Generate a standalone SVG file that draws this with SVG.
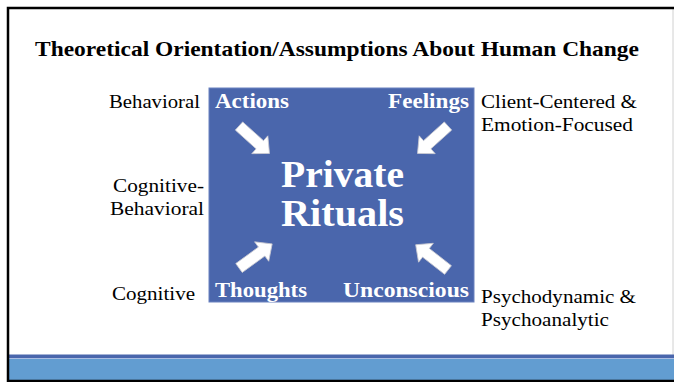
<svg xmlns="http://www.w3.org/2000/svg" width="674" height="382" viewBox="0 0 674 382">
  <style>
    .title { font-family: "Liberation Serif", "DejaVu Serif", serif; font-weight: bold; font-size: 21px; fill: #000; }
    .lbl { font-family: "Liberation Serif", "DejaVu Serif", serif; font-size: 19.5px; fill: #000; }
    .inner { font-family: "Liberation Serif", "DejaVu Serif", serif; font-weight: bold; font-size: 20px; fill: #fff; }
    .big { font-family: "Liberation Serif", "DejaVu Serif", serif; font-weight: bold; font-size: 37px; fill: #fff; }
    .arrow { fill: #fff; stroke: #c8c8d0; stroke-width: 0.8; }
  </style>
  <defs>
    <!-- block arrow pointing along +x, origin at tail centre -->
    <polygon id="blk" points="0,-5.5 28,-5.5 28,-12 41,0 28,12 28,5.5 0,5.5"/>
  </defs>

  <!-- slide frame -->
  <rect x="0" y="0" width="674" height="382" fill="#fff"/>
  <line x1="673" y1="9" x2="673" y2="380" stroke="#d0d0d0" stroke-width="1"/>
  <!-- footer bands -->
  <rect x="9" y="354.5" width="665" height="3.5" fill="#4a66ac"/>
  <rect x="9" y="358" width="665" height="1" fill="#a9bde2"/>
  <rect x="9" y="359" width="665" height="21" fill="#629dd1"/>
  <path d="M8,382 V8 H674" fill="none" stroke="#000" stroke-width="2.5"/>
  <line x1="8" y1="381" x2="674" y2="381" stroke="#000" stroke-width="2.5"/>

  <text class="title" x="35" y="56" textLength="604" lengthAdjust="spacingAndGlyphs">Theoretical Orientation/Assumptions About Human Change</text>

  <g id="core">
    <rect x="209" y="88" width="265" height="214" fill="#4a66ac" stroke="#6a82bf" stroke-width="1"/>
    <text class="big" x="281" y="187" textLength="123" lengthAdjust="spacingAndGlyphs">Private</text>
    <text class="big" x="281" y="226" textLength="123" lengthAdjust="spacingAndGlyphs">Rituals</text>
  </g>

  <g id="actions">
    <text class="inner" x="215" y="108" textLength="74" lengthAdjust="spacingAndGlyphs">Actions</text>
  </g>
  <g id="feelings">
    <text class="inner" x="388" y="108" textLength="81" lengthAdjust="spacingAndGlyphs">Feelings</text>
  </g>
  <g id="thoughts">
    <text class="inner" x="215" y="297" textLength="92" lengthAdjust="spacingAndGlyphs">Thoughts</text>
  </g>
  <g id="unconscious">
    <text class="inner" x="343" y="297" textLength="126" lengthAdjust="spacingAndGlyphs">Unconscious</text>
  </g>

  <g id="behavioral">
    <text class="lbl" x="109" y="108" textLength="91" lengthAdjust="spacingAndGlyphs">Behavioral</text>
  </g>
  <g id="client-centered">
    <text class="lbl" x="481" y="108" textLength="156" lengthAdjust="spacingAndGlyphs">Client-Centered &amp;</text>
    <text class="lbl" x="481" y="131" textLength="152" lengthAdjust="spacingAndGlyphs">Emotion-Focused</text>
  </g>
  <g id="cognitive-behavioral">
    <text class="lbl" x="113" y="192" textLength="91" lengthAdjust="spacingAndGlyphs">Cognitive-</text>
    <text class="lbl" x="110" y="215" textLength="94" lengthAdjust="spacingAndGlyphs">Behavioral</text>
  </g>
  <g id="cognitive">
    <text class="lbl" x="112" y="300" textLength="83" lengthAdjust="spacingAndGlyphs">Cognitive</text>
  </g>
  <g id="psychodynamic">
    <text class="lbl" x="481" y="303" textLength="155" lengthAdjust="spacingAndGlyphs">Psychodynamic &amp;</text>
    <text class="lbl" x="481" y="326" textLength="128" lengthAdjust="spacingAndGlyphs">Psychoanalytic</text>
  </g>

  <g id="connectors">
    <use href="#blk" class="arrow" transform="translate(239,126) rotate(42)"/>
    <use href="#blk" class="arrow" transform="translate(448,126) rotate(138)"/>
    <use href="#blk" class="arrow" transform="translate(239,268) rotate(-36)"/>
    <use href="#blk" class="arrow" transform="translate(448,270) rotate(-142)"/>
  </g>
</svg>
